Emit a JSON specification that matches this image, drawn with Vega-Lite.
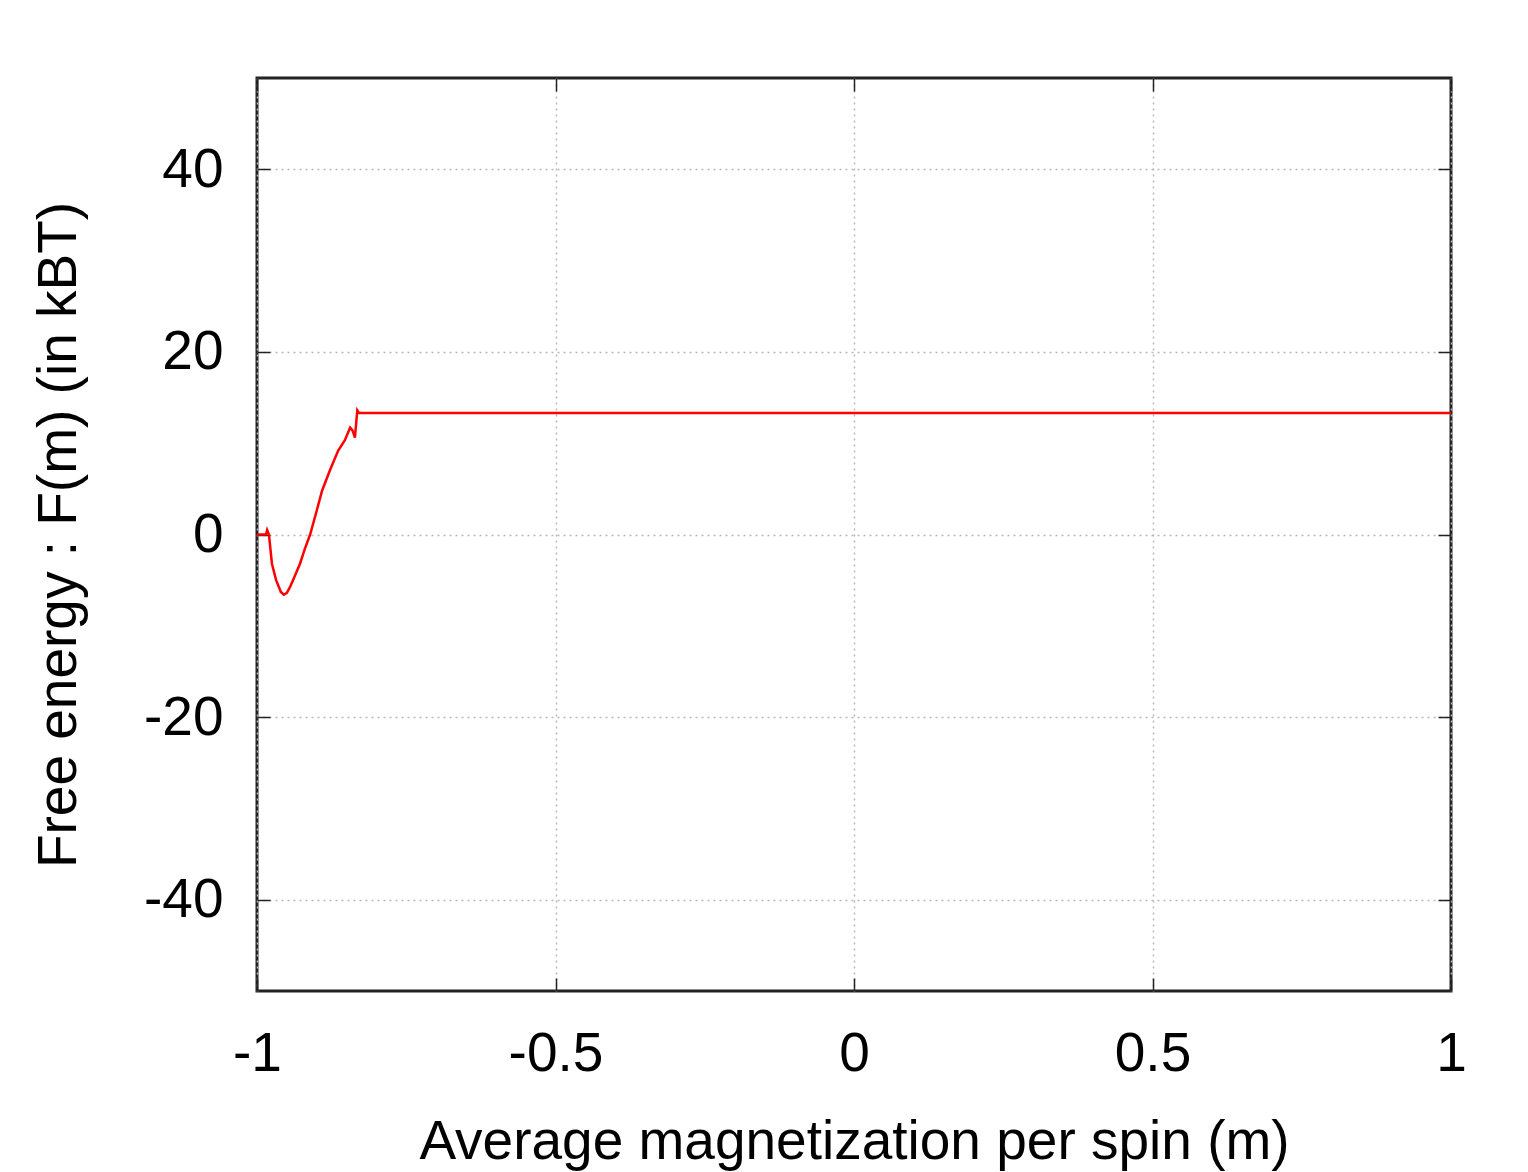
{
  "$schema": "https://vega.github.io/schema/vega-lite/v6.json",
  "width": 1194,
  "height": 913,
  "autosize": {"type": "none"},
  "padding": {"left": 257, "top": 78, "right": 77, "bottom": 181},
  "background": "white",
  "config": {
    "view": {"stroke": "#222222", "strokeWidth": 3},
    "font": "Liberation Sans",
    "axis": {
      "labelFont": "Liberation Sans",
      "titleFont": "Liberation Sans",
      "labelFontSize": 55,
      "titleFontSize": 55,
      "titleFontWeight": "normal",
      "labelColor": "#000000",
      "titleColor": "#000000",
      "domain": false,
      "tickColor": "#222222",
      "tickWidth": 1.5,
      "tickSize": -13,
      "gridColor": "#b8b8b8",
      "gridDash": [2, 4],
      "gridWidth": 1.5
    }
  },
  "data": {
    "values": [
      {"m": -1.0, "F": 0.0},
      {"m": -0.985, "F": 0.0},
      {"m": -0.983, "F": 0.5},
      {"m": -0.98, "F": 0.0},
      {"m": -0.975, "F": -3.2},
      {"m": -0.968, "F": -5.0},
      {"m": -0.96, "F": -6.3},
      {"m": -0.955, "F": -6.6},
      {"m": -0.95, "F": -6.4},
      {"m": -0.945, "F": -5.8},
      {"m": -0.937, "F": -4.6},
      {"m": -0.928, "F": -3.2},
      {"m": -0.92, "F": -1.6},
      {"m": -0.911, "F": 0.0},
      {"m": -0.9, "F": 2.6},
      {"m": -0.891, "F": 4.8},
      {"m": -0.878, "F": 7.0},
      {"m": -0.864, "F": 9.2},
      {"m": -0.853, "F": 10.3},
      {"m": -0.844, "F": 11.7},
      {"m": -0.84, "F": 11.4},
      {"m": -0.836, "F": 10.6},
      {"m": -0.832, "F": 13.6},
      {"m": -0.829, "F": 13.3},
      {"m": 0.0, "F": 13.3},
      {"m": 1.0, "F": 13.3}
    ]
  },
  "layer": [
    {
      "mark": {"type": "line", "color": "#ff0000", "strokeWidth": 2.5, "clip": true},
      "encoding": {
        "x": {
          "field": "m", "type": "quantitative",
          "scale": {"domain": [-1, 1], "nice": false, "zero": false},
          "axis": {
            "orient": "bottom",
            "values": [-1, -0.5, 0, 0.5, 1],
            "format": "~g",
            "labelExpr": "replace(datum.label, '\u2212', '-')",
            "labelPadding": 49,
            "labelDx": 3,
            "labelFlush": false,
            "title": "Average magnetization per spin (m)",
            "titlePadding": 34
          }
        },
        "y": {
          "field": "F", "type": "quantitative",
          "scale": {"domain": [-50, 50], "nice": false},
          "axis": {
            "orient": "left",
            "values": [-40, -20, 0, 20, 40],
            "labelExpr": "replace(datum.label, '\u2212', '-')",
            "labelPadding": 47,
            "title": "Free energy : F(m) (in kBT)",
            "titlePadding": 56
          }
        }
      }
    },
    {
      "mark": {"type": "line", "strokeOpacity": 0},
      "encoding": {
        "x": {
          "field": "m", "type": "quantitative",
          "axis": {"orient": "top", "values": [-1, -0.5, 0, 0.5, 1], "labels": false, "grid": false, "title": null}
        },
        "y": {
          "field": "F", "type": "quantitative",
          "axis": {"orient": "right", "values": [-40, -20, 0, 20, 40], "labels": false, "grid": false, "title": null}
        }
      }
    }
  ],
  "resolve": {"axis": {"x": "independent", "y": "independent"}}
}
